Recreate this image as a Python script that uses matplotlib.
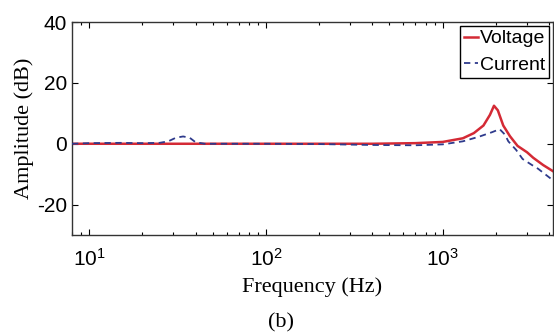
import numpy as np
import matplotlib
matplotlib.use("Agg")
import matplotlib.pyplot as plt
from matplotlib.ticker import LogLocator, NullFormatter

# values
freq_v = [8, 10, 20, 50, 100, 200, 400, 700, 1000, 1300, 1500, 1700, 1850,
          1950, 2050, 2200, 2400, 2650, 3000, 3250, 3700, 4200]
amp_v = [0, 0, 0, 0, 0, 0, 0, 0.2, 0.6, 1.8, 3.5, 6, 9.5,
         12.5, 11, 6, 2.5, -0.7, -2.8, -4.6, -7, -9]

freq_i = [8, 10, 15, 20, 25, 28, 31, 34, 37, 40, 45, 100, 200, 400, 700,
          1000, 1300, 1600, 1900, 2100, 2250, 2350, 2600, 2830, 3200, 3460, 4200]
amp_i = [0, 0.2, 0.3, 0.2, 0.3, 0.8, 2.0, 2.4, 2.0, 0.5, 0, 0, -0.1, -0.4, -0.5,
         -0.2, 0.8, 2.3, 3.8, 4.8, 3, 0.8, -2, -5, -7, -8.2, -12]

y_ticks = [-20, 0, 20, 40]

plt.rcParams["axes.unicode_minus"] = False
sans = ["Liberation Sans", "DejaVu Sans"]
serif = ["Liberation Serif", "DejaVu Serif"]

fig = plt.figure(figsize=(5.54, 3.35), dpi=100)
ax = fig.add_axes([0.130, 0.2985, 0.868, 0.6355])

ax.plot(freq_v, amp_v, color="#d42a35", lw=1.8, label="Voltage", zorder=2)
ax.plot(freq_i, amp_i, color="#2e3a8c", lw=1.3, ls=(0, (3.5, 2.5)), label="Current", zorder=3)

ax.set_xscale("log")
ax.set_xlim(8, 4200)
ax.set_ylim(-30, 40)
ax.set_yticks(y_ticks)
ax.xaxis.set_minor_locator(LogLocator(base=10, subs=np.arange(2, 10)))
ax.xaxis.set_minor_formatter(NullFormatter())

ax.tick_params(which="both", direction="in", top=True, right=True, labelsize=15)
ax.tick_params(which="major", length=4, width=0.8)
ax.tick_params(which="minor", length=2.5, width=0.8)
ax.tick_params(axis="x", which="major", pad=9)
for lbl in ax.get_xticklabels() + ax.get_yticklabels():
    lbl.set_fontfamily(sans)
for s in ax.spines.values():
    s.set_linewidth(1.0)
    s.set_color("#333333")

ax.set_xlabel("Frequency (Hz)", fontsize=16, family=serif, labelpad=6)
ax.set_ylabel("Amplitude (dB)", fontsize=16, family=serif, labelpad=2)
fig.text(0.507, 0.035, "(b)", fontsize=16, family=serif, ha="center", va="center")

leg = ax.legend(loc="upper right", prop={"family": sans, "size": 14},
                handlelength=0.7, handletextpad=0.1, borderpad=0.2,
                labelspacing=0.45, borderaxespad=0.2, fancybox=False,
                framealpha=1)
leg.get_frame().set_edgecolor("black")
leg.get_frame().set_linewidth(1.0)

fig.savefig("out.png", dpi=100)
